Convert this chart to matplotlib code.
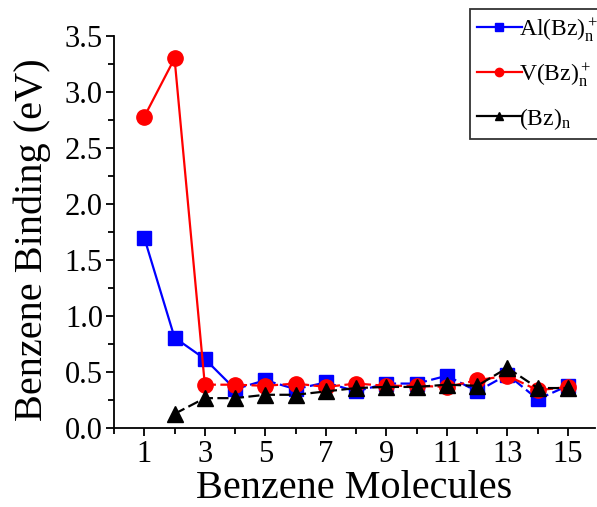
import matplotlib.pyplot as plt
from matplotlib.lines import Line2D

plt.rcParams['font.family'] = 'Liberation Serif'
plt.rcParams['mathtext.fontset'] = 'custom'
plt.rcParams['mathtext.rm'] = 'Liberation Serif'
plt.rcParams['mathtext.it'] = 'Liberation Serif'

# benzene count and binding energies (eV)
n_al = [1, 2, 3, 4, 5, 6, 7, 8, 9, 10, 11, 12, 13, 14, 15]
e_al = [1.70, 0.81, 0.62, 0.35, 0.43, 0.35, 0.41, 0.33, 0.40, 0.40, 0.47, 0.33, 0.48, 0.26, 0.38]

n_v = [1, 2, 3, 4, 5, 6, 7, 8, 9, 10, 11, 12, 13, 14, 15]
e_v = [2.78, 3.30, 0.39, 0.39, 0.38, 0.40, 0.37, 0.40, 0.38, 0.38, 0.37, 0.43, 0.47, 0.34, 0.37]

n_bz = [2, 3, 4, 5, 6, 7, 8, 9, 10, 11, 12, 13, 14, 15]
e_bz = [0.13, 0.27, 0.27, 0.30, 0.30, 0.33, 0.36, 0.37, 0.37, 0.39, 0.38, 0.54, 0.36, 0.36]

labels = [r'Al(Bz)$_\mathrm{n}^+$', r'V(Bz)$_\mathrm{n}^+$', r'(Bz)$_\mathrm{n}$']
colors = ['#0000ff', '#ff0000', '#000000']
markers = ['s', 'o', '^']

fig = plt.figure(figsize=(5.97, 5.07), dpi=100)
ax = fig.add_axes([0.191, 0.155, 0.806, 0.774])

dash = (5, 2)
lw = 1.6

# Al: solid for the first points, dashed afterwards
ax.plot(n_al[:4], e_al[:4], color=colors[0], lw=lw, zorder=2)
ax.plot(n_al[3:], e_al[3:], color=colors[0], lw=lw, dashes=dash, zorder=2)
ax.plot(n_al, e_al, ls='none', marker='s', ms=10.5, color=colors[0], zorder=2)

# V
ax.plot(n_v[:3], e_v[:3], color=colors[1], lw=lw, zorder=3)
ax.plot(n_v[2:], e_v[2:], color=colors[1], lw=lw, dashes=dash, zorder=3)
ax.plot(n_v, e_v, ls='none', marker='o', ms=11, color=colors[1], zorder=3)

# (Bz)n
ax.plot(n_bz, e_bz, color=colors[2], lw=lw, dashes=dash, marker='^', ms=12, zorder=4)

ax.set_xlim(0, 15.9)
ax.set_ylim(0, 3.5)
ax.set_xticks(range(1, 16, 2))
ax.set_xticks(range(0, 16, 2), minor=True)
ax.set_yticks([0, 0.5, 1.0, 1.5, 2.0, 2.5, 3.0, 3.5])
ax.set_yticks([0.25, 0.75, 1.25, 1.75, 2.25, 2.75, 3.25], minor=True)
ax.set_yticklabels(['0.0', '0.5', '1.0', '1.5', '2.0', '2.5', '3.0', '3.5'])

ax.spines['top'].set_visible(False)
ax.spines['right'].set_visible(False)
ax.spines['left'].set_linewidth(1.3)
ax.spines['bottom'].set_linewidth(1.3)
ax.tick_params(which='major', direction='out', length=6, width=1.3, labelsize=22, pad=2)
ax.tick_params(which='minor', direction='out', length=4, width=1.3)

ax.set_xlabel('Benzene Molecules', fontsize=29, labelpad=1)
ax.set_ylabel('Benzene Binding (eV)', fontsize=29)
ax.yaxis.set_label_coords(-0.132, 0.48)

handles = [Line2D([], [], color=c, lw=lw, marker=m, ms=6) for c, m in zip(colors, markers)]
leg = fig.legend(handles, labels, loc='upper left', bbox_to_anchor=(0.787, 0.982),
                 fontsize=17, frameon=True, fancybox=False, edgecolor='black',
                 handlelength=1.9, handletextpad=-0.1, labelspacing=0.75,
                 borderaxespad=0, borderpad=0.3)
leg.get_frame().set_linewidth(1.3)

fig.savefig('out.png', dpi=100)
